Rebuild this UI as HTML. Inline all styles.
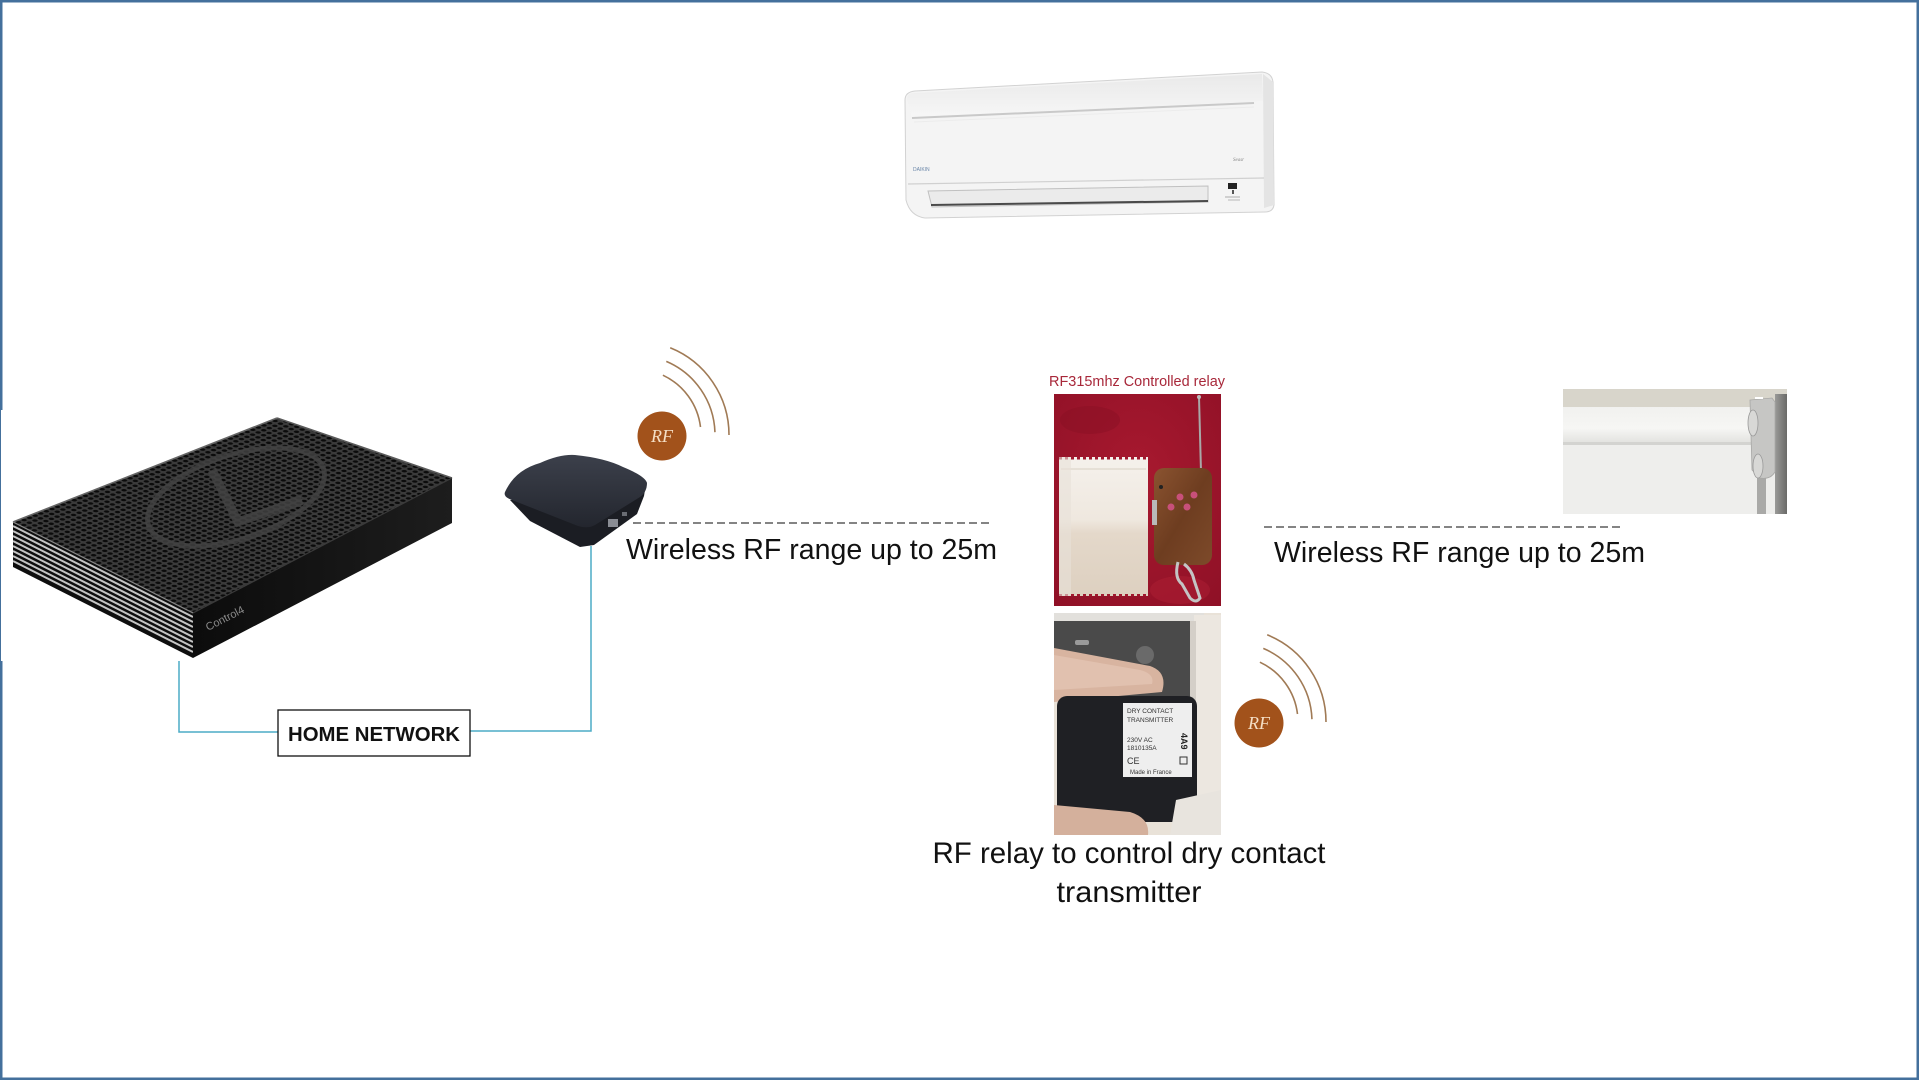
<!DOCTYPE html>
<html>
<head>
<meta charset="utf-8">
<style>
  html,body{margin:0;padding:0;background:#ffffff;}
  body{width:1919px;height:1080px;overflow:hidden;position:relative;}
  svg{position:absolute;left:0;top:0;}
  .t{font-family:"Liberation Sans",Arial,sans-serif;fill:#111;}
</style>
</head>
<body>
<svg width="1919" height="1080" viewBox="0 0 1919 1080" xmlns="http://www.w3.org/2000/svg">
  <defs>
    <pattern id="holes" width="6" height="6" patternUnits="userSpaceOnUse" patternTransform="matrix(0.93,-0.367,0.892,0.451,13,522)">
      <rect width="6" height="6" fill="#3b3b3b"/>
      <circle cx="3" cy="3" r="2.1" fill="#0b0b0b"/>
    </pattern>
    <linearGradient id="rface" x1="0" y1="0" x2="1" y2="0">
      <stop offset="0" stop-color="#0c0c0c"/>
      <stop offset="1" stop-color="#1d1d1d"/>
    </linearGradient>
    <linearGradient id="puckTop" x1="0" y1="0" x2="0" y2="1">
      <stop offset="0" stop-color="#3c404b"/>
      <stop offset="1" stop-color="#23262e"/>
    </linearGradient>
    <linearGradient id="relayBox" x1="0" y1="0" x2="0" y2="1">
      <stop offset="0" stop-color="#f5f1ec"/>
      <stop offset="0.45" stop-color="#efe8df"/>
      <stop offset="0.55" stop-color="#e4d8ca"/>
      <stop offset="1" stop-color="#ddd0c0"/>
    </linearGradient>
    <linearGradient id="wood" x1="0" y1="0" x2="1" y2="1">
      <stop offset="0" stop-color="#8a5330"/>
      <stop offset="0.5" stop-color="#6e3d20"/>
      <stop offset="1" stop-color="#7d4a2a"/>
    </linearGradient>
    <radialGradient id="redbg" cx="0.5" cy="0.4" r="0.8">
      <stop offset="0" stop-color="#a8192f"/>
      <stop offset="1" stop-color="#8e1026"/>
    </radialGradient>
    <linearGradient id="roller" x1="0" y1="0" x2="0" y2="1">
      <stop offset="0" stop-color="#f1f1ef"/>
      <stop offset="0.6" stop-color="#f6f6f4"/>
      <stop offset="1" stop-color="#e2e2df"/>
    </linearGradient>
    <linearGradient id="wallR" x1="0" y1="0" x2="1" y2="0">
      <stop offset="0" stop-color="#9a9a98"/>
      <stop offset="1" stop-color="#6a6a68"/>
    </linearGradient>
    <linearGradient id="acTop" x1="0" y1="0" x2="0" y2="1">
      <stop offset="0" stop-color="#e9e9e9"/>
      <stop offset="1" stop-color="#f7f7f7"/>
    </linearGradient>
    <clipPath id="leftFace"><polygon points="13,522 193,613 193,658 13,567"/></clipPath>
    <clipPath id="dcClip"><rect x="1054" y="613" width="167" height="222"/></clipPath>
    <clipPath id="relClip"><rect x="1054" y="394" width="167" height="212"/></clipPath>
  </defs>

  <!-- frame border -->
  <rect x="1.25" y="1.25" width="1916.5" height="1077.5" fill="#ffffff" stroke="#44709c" stroke-width="2.5"/>

  <!-- ===== Control4 controller image ===== -->
  <rect x="1" y="410" width="455" height="251" fill="#ffffff"/>
  <!-- left striped face -->
  <polygon points="13,522 193,613 193,658 13,567" fill="#0e0e0e"/>
  <g clip-path="url(#leftFace)" stroke="#c4c4c4" stroke-width="2">
    <line x1="13" y1="526" x2="193" y2="617"/>
    <line x1="13" y1="531" x2="193" y2="622"/>
    <line x1="13" y1="536" x2="193" y2="627"/>
    <line x1="13" y1="541" x2="193" y2="632"/>
    <line x1="13" y1="546" x2="193" y2="637"/>
    <line x1="13" y1="551" x2="193" y2="642"/>
    <line x1="13" y1="556" x2="193" y2="647"/>
    <line x1="13" y1="561" x2="193" y2="652"/>
  </g>
  <!-- right face -->
  <polygon points="193,613 452,478 452,523 193,658" fill="url(#rface)"/>
  <!-- top face -->
  <polygon points="13,522 277,418 452,478 193,613" fill="url(#holes)"/>
  <ellipse cx="236" cy="497" rx="92" ry="42" transform="rotate(-18 236 497)" fill="none" stroke="#444" stroke-width="5" opacity="0.8"/>
  <polyline points="212,470 238,522 302,500" fill="none" stroke="#444" stroke-width="9" opacity="0.8"/>
  <line x1="13" y1="522" x2="277" y2="418" stroke="#666" stroke-width="1.6"/>
  <line x1="277" y1="418" x2="452" y2="478" stroke="#5a5a5a" stroke-width="1.6"/>
  <line x1="193" y1="613" x2="452" y2="478" stroke="#3a3a3a" stroke-width="1.2"/>
  <line x1="13" y1="522" x2="193" y2="613" stroke="#888" stroke-width="1.2"/>
  <text x="208" y="631" transform="rotate(-27 208 631)" font-family="Liberation Sans, Arial, sans-serif" font-size="11" fill="#8a8a8a">Control4</text>

  <!-- ===== RF hub (puck) ===== -->
  <path d="M510,500 L530,521 L580,547 L594,545 L637,514 L644,496 L646,484 Z" fill="#1b1d23"/>
  <path d="M505,492 Q515,470 540,463 Q560,454 575,455 Q605,458 623,467 Q645,476 647,483 Q647,492 640,497 L595,525 Q588,529 578,526 L512,500 Q503,497 505,492 Z" fill="url(#puckTop)"/>
  <rect x="608" y="519" width="10" height="8" fill="#8a8d94"/>
  <rect x="622" y="512" width="5" height="4" fill="#6a6d74"/>

  <!-- RF badge 1 + arcs -->
  <g id="rf1">
    <path d="M670.2,347.8 A94,94 0 0 1 729,435" fill="none" stroke="#a07a55" stroke-width="1.6"/>
    <path d="M666.3,361.4 A80,80 0 0 1 714.95,432.2" fill="none" stroke="#a07a55" stroke-width="1.6"/>
    <path d="M662.9,375.2 A66,66 0 0 1 700.5,427" fill="none" stroke="#a07a55" stroke-width="1.6"/>
    <circle cx="662" cy="436" r="24.5" fill="#a2521b"/>
    <text x="662" y="442" text-anchor="middle" font-family="Liberation Serif, serif" font-style="italic" font-size="18" fill="#f5dfc6">RF</text>
  </g>

  <!-- dashed line 1 + label -->
  <line x1="633" y1="523" x2="991" y2="523" stroke="#3a3a3a" stroke-width="1.3" stroke-dasharray="8 4"/>
  <text class="t" x="626" y="559" font-size="28.5" textLength="371" lengthAdjust="spacingAndGlyphs">Wireless RF range up to 25m</text>

  <!-- connectors -->
  <polyline points="179,661 179,732 278,732" fill="none" stroke="#4bacc6" stroke-width="1.5"/>
  <polyline points="470,731 591,731 591,546" fill="none" stroke="#4bacc6" stroke-width="1.5"/>
  <!-- HOME NETWORK box -->
  <rect x="278" y="710" width="192" height="46" fill="#ffffff" stroke="#111" stroke-width="1.3"/>
  <text class="t" x="288" y="741" font-size="20.5" font-weight="bold" textLength="172" lengthAdjust="spacingAndGlyphs">HOME NETWORK</text>

  <!-- ===== Air conditioner ===== -->
  <path d="M905,100 Q905,92 915,91 L1262,72 Q1272,73 1273,82 L1274,205 Q1273,212 1265,212 L925,218 Q910,216 906,200 Z" fill="#f4f4f4" stroke="#d2d2d2" stroke-width="1"/>
  <path d="M907,99 Q907,93 915,93 L1262,74 L1263,101 L912,118 Z" fill="url(#acTop)"/>
  <line x1="912" y1="118" x2="1254" y2="103" stroke="#c9c9c9" stroke-width="2"/>
  <line x1="914" y1="122" x2="1254" y2="107" stroke="#ececec" stroke-width="1"/>
  <path d="M1263,74 L1273,82 L1274,205 L1264,208 Z" fill="#e4e4e4"/>
  <line x1="908" y1="184" x2="1264" y2="178" stroke="#d0d0d0" stroke-width="1.2"/>
  <polygon points="928,191 1208,186 1208,202 932,207" fill="#ebebeb" stroke="#c0c0c0" stroke-width="1"/>
  <line x1="931" y1="205" x2="1208" y2="201" stroke="#4a4a4a" stroke-width="2"/>
  <rect x="1228" y="183" width="9" height="6" fill="#222"/>
  <rect x="1232" y="190" width="2" height="4" fill="#555"/>
  <line x1="1225" y1="197" x2="1240" y2="197" stroke="#999" stroke-width="0.8"/>
  <line x1="1228" y1="200" x2="1240" y2="200" stroke="#aaa" stroke-width="0.8"/>
  <text x="913" y="171" font-family="Liberation Sans, Arial, sans-serif" font-size="5" fill="#6a86a8">DAIKIN</text>
  <text x="1233" y="161" font-family="Liberation Serif, serif" font-style="italic" font-size="5" fill="#888">Seasr</text>

  <!-- ===== RF315 relay photo ===== -->
  <text x="1049" y="386" font-family="Liberation Sans, Arial, sans-serif" font-size="14.5" fill="#a8283a" textLength="176" lengthAdjust="spacingAndGlyphs">RF315mhz Controlled relay</text>
  <g clip-path="url(#relClip)">
    <rect x="1054" y="394" width="167" height="212" fill="url(#redbg)"/>
    <ellipse cx="1090" cy="420" rx="30" ry="14" fill="#8a0f24" opacity="0.5"/>
    <ellipse cx="1180" cy="590" rx="30" ry="14" fill="#b52438" opacity="0.4"/>
    <rect x="1059" y="457" width="89" height="139" fill="url(#relayBox)"/>
    <line x1="1059" y1="458" x2="1148" y2="458" stroke="#a0182e" stroke-width="3" stroke-dasharray="3 3"/>
    <line x1="1059" y1="595" x2="1148" y2="595" stroke="#a0182e" stroke-width="2" stroke-dasharray="3 3"/>
    <line x1="1061" y1="469" x2="1146" y2="469" stroke="#d9d0c4" stroke-width="1"/>
    <rect x="1059" y="457" width="12" height="139" fill="#e8e1d8" opacity="0.6"/>
    <line x1="1199" y1="397" x2="1201" y2="472" stroke="#a8a8a8" stroke-width="2"/>
    <circle cx="1199" cy="397" r="2" fill="#bbb"/>
    <rect x="1154" y="468" width="58" height="97" rx="10" fill="url(#wood)"/>
    <rect x="1152" y="500" width="5" height="25" fill="#b9b9b9"/>
    <circle cx="1180" cy="497" r="3.5" fill="#c8507a"/>
    <circle cx="1194" cy="495" r="3.5" fill="#c8507a"/>
    <circle cx="1171" cy="507" r="3.5" fill="#c8507a"/>
    <circle cx="1187" cy="507" r="3.5" fill="#c8507a"/>
    <circle cx="1161" cy="487" r="2" fill="#222"/>
    <path d="M1178,562 Q1174,578 1182,584 L1190,598 Q1196,604 1200,598 L1194,580 Q1192,570 1184,564" fill="none" stroke="#c4c4c4" stroke-width="3"/>
  </g>

  <!-- ===== Dry contact transmitter photo ===== -->
  <g clip-path="url(#dcClip)">
    <rect x="1054" y="613" width="167" height="222" fill="#e9e2d8"/>
    <rect x="1054" y="613" width="150" height="8" fill="#e2e0dc"/>
    <rect x="1054" y="621" width="140" height="80" fill="#4a4a4a"/>
    <rect x="1075" y="640" width="14" height="5" rx="2" fill="#9a9a9a"/>
    <circle cx="1145" cy="655" r="9" fill="#6a6a6a"/>
    <rect x="1194" y="615" width="27" height="220" fill="#ece7e0"/>
    <rect x="1190" y="621" width="6" height="190" fill="#d4cfc8"/>
    <path d="M1054,648 L1150,666 Q1168,672 1162,692 L1054,702 Z" fill="#d8b4a0"/>
    <path d="M1054,655 L1140,670 Q1155,674 1152,684 L1054,690 Z" fill="#e6c6b5" opacity="0.7"/>
    <rect x="1057" y="696" width="140" height="126" rx="10" fill="#1f2024"/>
    <rect x="1123" y="703" width="69" height="74" fill="#eeeeee"/>
    <g font-family="Liberation Sans, Arial, sans-serif" font-size="6.5" fill="#333">
      <text x="1127" y="713">DRY CONTACT</text>
      <text x="1127" y="722">TRANSMITTER</text>
      <text x="1127" y="742">230V AC</text>
      <text x="1127" y="750">1810135A</text>
      <text x="1127" y="764" font-size="9">CE</text>
      <text x="1130" y="774" font-size="6">Made in France</text>
    </g>
    <rect x="1180" y="757" width="7" height="7" fill="none" stroke="#333" stroke-width="1"/>
    <text x="1181" y="733" transform="rotate(90 1181 733)" font-family="Liberation Sans, Arial, sans-serif" font-size="9" font-weight="bold" fill="#222">4A9</text>
    <path d="M1054,805 L1130,812 Q1150,818 1148,835 L1054,835 Z" fill="#d4b09c"/>
    <path d="M1176,800 L1221,790 L1221,835 L1170,835 Z" fill="#e8e4de"/>
  </g>

  <!-- RF badge 2 + arcs -->
  <g transform="translate(597,287)">
    <path d="M670.2,347.8 A94,94 0 0 1 729,435" fill="none" stroke="#a07a55" stroke-width="1.6"/>
    <path d="M666.3,361.4 A80,80 0 0 1 714.95,432.2" fill="none" stroke="#a07a55" stroke-width="1.6"/>
    <path d="M662.9,375.2 A66,66 0 0 1 700.5,427" fill="none" stroke="#a07a55" stroke-width="1.6"/>
    <circle cx="662" cy="436" r="24.5" fill="#a2521b"/>
    <text x="662" y="442" text-anchor="middle" font-family="Liberation Serif, serif" font-style="italic" font-size="18" fill="#f5dfc6">RF</text>
  </g>

  <!-- bottom caption -->
  <text class="t" x="1129" y="863" font-size="29.5" text-anchor="middle" textLength="393" lengthAdjust="spacingAndGlyphs">RF relay to control dry contact</text>
  <text class="t" x="1129" y="902" font-size="29.5" text-anchor="middle" textLength="145" lengthAdjust="spacingAndGlyphs">transmitter</text>

  <!-- dashed line 2 + label -->
  <line x1="1264" y1="527" x2="1622" y2="527" stroke="#3a3a3a" stroke-width="1.3" stroke-dasharray="8 4"/>
  <text class="t" x="1274" y="562" font-size="28.5" textLength="371" lengthAdjust="spacingAndGlyphs">Wireless RF range up to 25m</text>

  <!-- ===== Roller blind photo ===== -->
  <rect x="1563" y="389" width="224" height="125" fill="#ededeb"/>
  <rect x="1563" y="389" width="224" height="18" fill="#d8d5cb"/>
  <rect x="1563" y="407" width="197" height="36" fill="url(#roller)"/>
  <rect x="1563" y="442" width="197" height="3" fill="#d3d3d0"/>
  <rect x="1563" y="445" width="197" height="69" fill="#eeeeec"/>
  <rect x="1775" y="394" width="12" height="120" fill="url(#wallR)"/>
  <rect x="1757" y="470" width="9" height="44" fill="#a9a9a7"/>
  <path d="M1750,400 L1772,398 L1775,402 L1775,472 Q1770,480 1760,478 L1752,470 Z" fill="#c6c6c4" stroke="#a8a8a6" stroke-width="0.8"/>
  <ellipse cx="1753" cy="423" rx="5" ry="13" fill="#d8d8d6" stroke="#999" stroke-width="0.8"/>
  <ellipse cx="1758" cy="466" rx="5" ry="12" fill="#d8d8d6" stroke="#999" stroke-width="0.8"/>
  <rect x="1755" y="397" width="8" height="2" fill="#fff"/>
</svg>
</body>
</html>
